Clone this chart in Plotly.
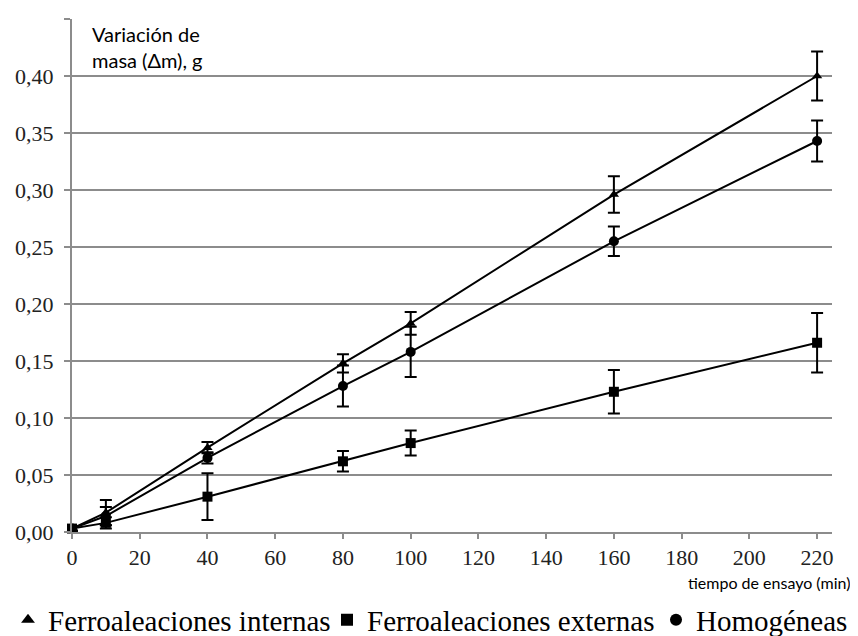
import plotly.graph_objects as go

tiempo = [0, 10, 40, 80, 100, 160, 220]

internas = [0.003, 0.017, 0.074, 0.148, 0.183, 0.296, 0.400]
internas_err = [0.002, 0.011, 0.005, 0.008, 0.010, 0.016, 0.0215]

externas = [0.003, 0.008, 0.031, 0.062, 0.078, 0.123, 0.166]
externas_err = [0.002, 0.005, 0.0205, 0.009, 0.011, 0.019, 0.026]

homogeneas = [0.003, 0.014, 0.065, 0.128, 0.158, 0.255, 0.343]
homogeneas_err = [0.002, 0.008, 0.005, 0.018, 0.022, 0.013, 0.018]

x_ticks = list(range(0, 221, 20))
y_ticks = [i * 0.05 for i in range(10)]

SERIF = "Liberation Serif, Times New Roman, serif"
SANS = "Lato, Open Sans, sans-serif"

series = [
    ("Ferroaleaciones internas", internas, internas_err, "triangle-up", 9, "legend"),
    ("Ferroaleaciones externas", externas, externas_err, "square", 10, "legend2"),
    ("Homogéneas", homogeneas, homogeneas_err, "circle", 10, "legend3"),
]

fig = go.Figure()
for name, vals, errs, sym, size, lg in series:
    fig.add_trace(go.Scatter(
        x=tiempo, y=vals, mode="lines+markers", name=name, showlegend=False,
        line=dict(color="black", width=2),
        marker=dict(symbol=sym, size=size, color="black"),
        error_y=dict(type="data", array=errs, visible=True, color="black",
                     thickness=2, width=6),
        cliponaxis=False,
    ))
for name, vals, errs, sym, size, lg in series:
    fig.add_trace(go.Scatter(
        x=[None], y=[None], mode="markers", name=name, legend=lg,
        marker=dict(symbol=sym, size=8, color="black"),
    ))

# page has an 8px body margin; figure is sized to sit inside the 858x636 window
OFF = 8
W, H = 858 - OFF, 636 - OFF
L, T, R, B = 72 - OFF, 19 - OFF, 26, 104
plot_w = W - L - R
plot_h = H - T - B

def px_x(page_x):
    return (page_x - OFF - L) / plot_w

def px_y(page_y):
    return 1 - (page_y - OFF - T) / plot_h

def legend_at(page_x):
    return dict(orientation="h", x=max(0, (page_x - OFF) / W), xref="container",
                xanchor="left", y=(H - (620 - OFF)) / H, yref="container",
                yanchor="middle", bgcolor="rgba(0,0,0,0)",
                font=dict(family=SERIF, size=29, color="black"),
                itemwidth=30, itemsizing="constant")

fig.update_layout(
    width=W, height=H,
    margin=dict(l=L, r=R, t=T, b=B, autoexpand=False),
    paper_bgcolor="white", plot_bgcolor="white",
    separators=",.",
    font=dict(family=SERIF, color="black"),
    showlegend=True,
    legend=legend_at(0),
    legend2=legend_at(327),
    legend3=legend_at(656),
    xaxis=dict(range=[0, 224.4], tickvals=x_ticks, showgrid=False,
               showline=True, linecolor="#8c8c8c", linewidth=2,
               ticks="outside", ticklen=5, tickcolor="#8c8c8c", tickwidth=2,
               tickfont=dict(family=SERIF, size=22, color="#222"),
               zeroline=False),
    yaxis=dict(range=[0, 0.45], tickvals=y_ticks, tickformat=".2f",
               showgrid=True, gridcolor="#8c8c8c", gridwidth=2,
               showline=True, linecolor="#8c8c8c", linewidth=2,
               ticks="outside", ticklen=6, tickcolor="#8c8c8c", tickwidth=2,
               ticklabelstandoff=6,
               tickfont=dict(family=SERIF, size=22, color="#222"),
               zeroline=False),
    annotations=[
        dict(text="Variación de<br>masa (Δm), g",
             x=px_x(90), y=px_y(20),
             xref="paper", yref="paper", xanchor="left", yanchor="top",
             align="left", showarrow=False,
             font=dict(family=SANS, size=20, color="black")),
        dict(text="tiempo de ensayo (min)",
             x=px_x(852), y=px_y(582),
             xref="paper", yref="paper", xanchor="right", yanchor="middle",
             showarrow=False,
             font=dict(family=SANS, size=16, color="black")),
    ],
)

fig.write_html("out.html")
